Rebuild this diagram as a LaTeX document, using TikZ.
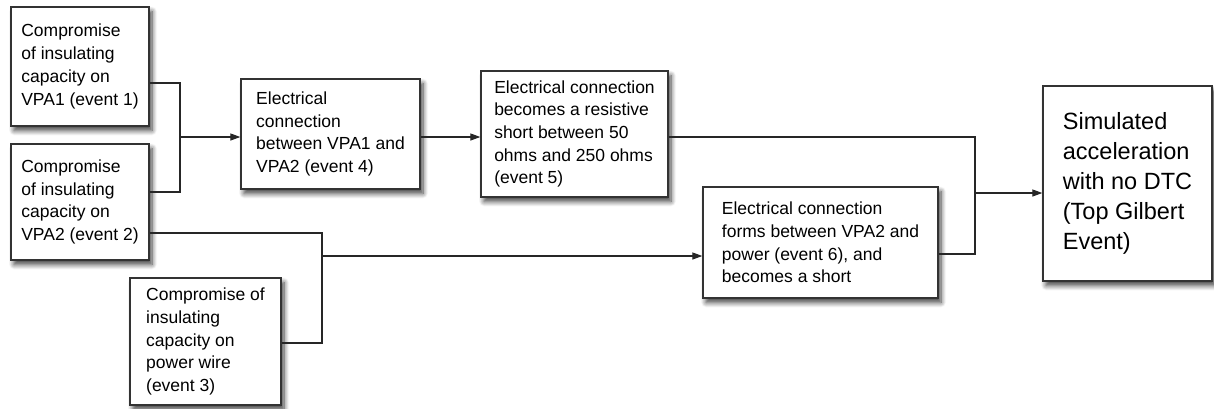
\documentclass[tikz,border=0pt]{standalone}
\usepackage{fontspec}
\setmainfont{Liberation Sans}
\usetikzlibrary{arrows.meta,shadows.blur}

\begin{document}
\begin{tikzpicture}[
    x=1pt, y=-1pt,
    every node/.style={font=\fontsize{17.5}{22.7}\selectfont},
    evt/.style={draw=black!80,line width=1.3pt,fill=white,align=left,
                blur shadow={shadow xshift=3pt,shadow yshift=-4.5pt,shadow blur radius=5pt,
                             shadow blur steps=8,shadow opacity=75}},
    topevt/.style={evt,font=\fontsize{23.5}{30}\selectfont},
    line/.style={-{Triangle[length=10pt,width=7pt]},line width=1.2pt,black!85},
    fline/.style={line width=1.2pt,black!85}
]
\useasboundingbox (0,0) rectangle (1214,408);

% Basic events
\node[evt,minimum width=138pt,minimum height=119pt] (e1) at (80,66.5)
    {Compromise\\of insulating\\capacity on\\VPA1 (event 1)};
\node[evt,minimum width=138pt,minimum height=116pt] (e2) at (80,202)
    {Compromise\\of insulating\\capacity on\\VPA2 (event 2)};
\node[evt,minimum width=151pt,minimum height=127pt] (e3) at (205.5,341.5)
    {Compromise of\\insulating\\capacity on\\power wire\\(event 3)};

% Intermediate events
\node[evt,minimum width=179pt,minimum height=110pt] (e4) at (330.5,134)
    {Electrical\\connection\\between VPA1 and\\VPA2 (event 4)};
\node[evt,minimum width=187pt,minimum height=126pt] (e5) at (574.5,134)
    {Electrical connection\\becomes a resistive\\short between 50\\ohms and 250 ohms\\(event 5)};
\node[evt,minimum width=235pt,minimum height=111pt] (e6) at (820.5,242.5)
    {Electrical connection\\forms between VPA2 and\\power (event 6), and\\becomes a short};

% Top event
\node[topevt,minimum width=169pt,minimum height=195pt] (tg) at (1127.5,183.5)
    {Simulated\\acceleration\\with no DTC\\(Top Gilbert\\Event)};

% Into event 4
\coordinate (j4) at (180,137);
\draw[fline] ([yshift=-16.5pt]e1.east) -| (j4);
\draw[fline] ([yshift=10pt]e2.east) -| (j4);
\draw[line] (j4) -- (j4 -| e4.west);
\draw[line] ([yshift=-3pt]e4.east) -- ([yshift=-3pt]e5.west);

% Into event 6
\coordinate (j6) at (322,256);
\draw[fline] ([yshift=-31pt]e2.east) -| (j6);
\draw[fline] ([yshift=-1.5pt]e3.east) -| (j6);
\draw[line] (j6) -- (j6 -| e6.west);

% Into top event
\coordinate (jt) at (975,193);
\draw[fline] ([yshift=-3pt]e5.east) -| (jt);
\draw[fline] ([yshift=-11.5pt]e6.east) -| (jt);
\draw[line] (jt) -- (jt -| tg.west);

\end{tikzpicture}
\end{document}
